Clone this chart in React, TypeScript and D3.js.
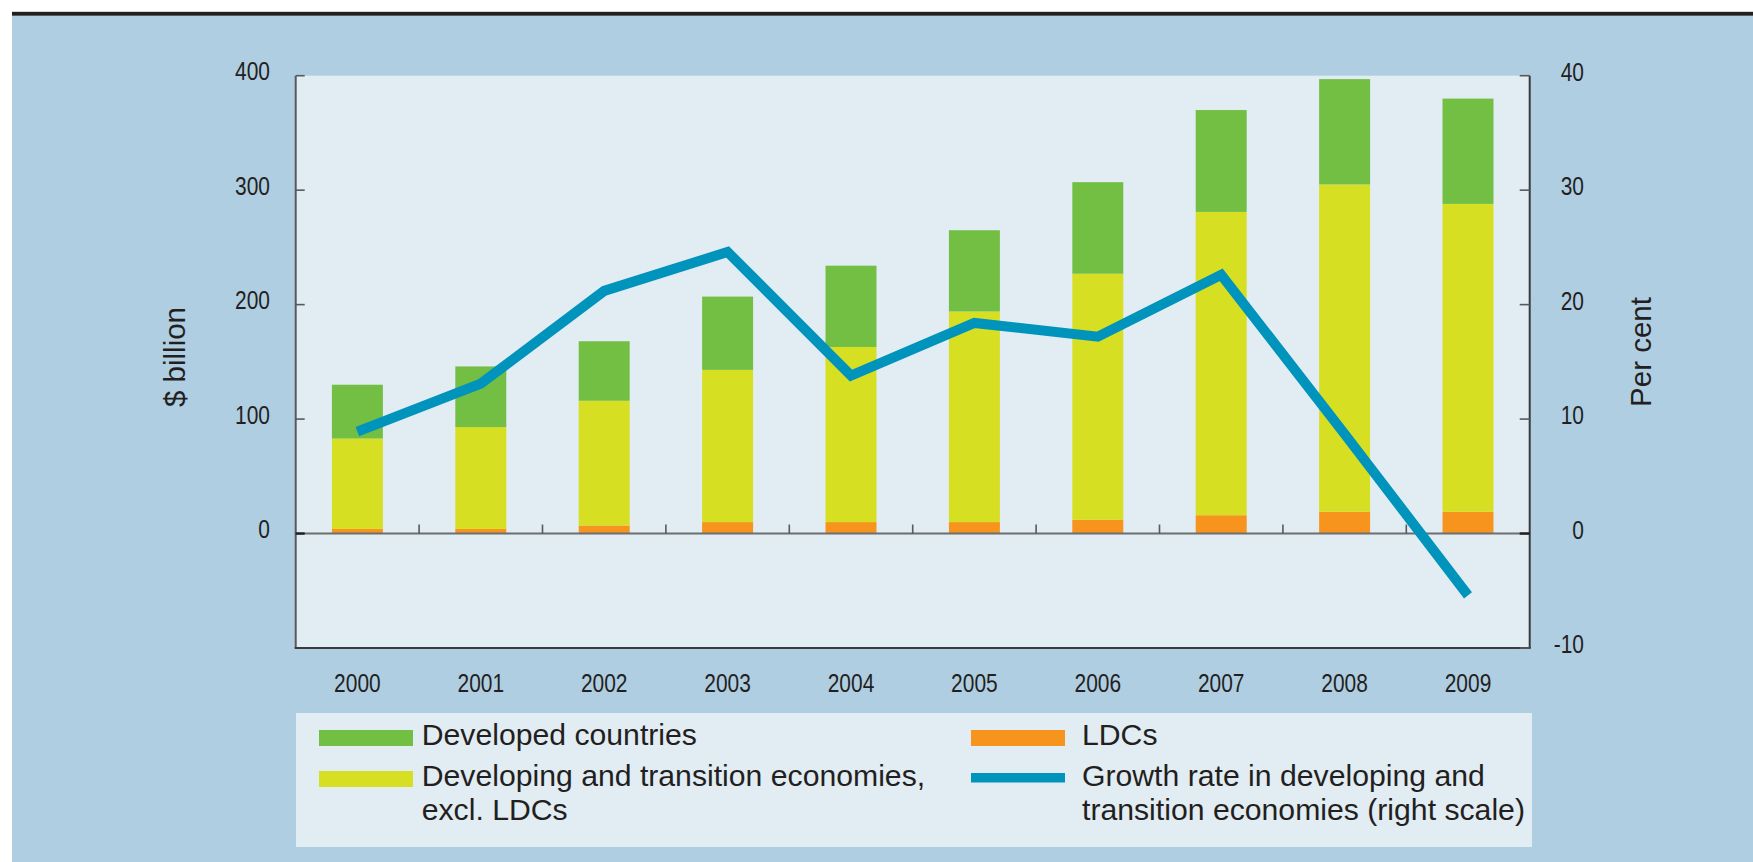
import React from "react";
import * as d3 from "d3";

const years = ["2000", "2001", "2002", "2003", "2004", "2005", "2006", "2007", "2008", "2009"];
const ldcs = [4, 4, 7, 10, 10, 10, 12, 16, 19, 19];
const developing = [79, 89, 109, 133, 153, 184, 215, 265, 286, 269];
const developed = [47, 53, 52, 64, 71, 71, 80, 89, 92, 92];
const growth = [8.9, 13.1, 21.2, 24.6, 13.8, 18.4, 17.2, 22.6, 8.7, -5.4];
const leftTicks = [0, 100, 200, 300, 400];
const rightTicks = [-10, 0, 10, 20, 30, 40];

const seriesKeys = ["ldcs", "developing", "developed"];
const seriesColors: Record<string, string> = {
  ldcs: "#f7941d",
  developing: "#d7df23",
  developed: "#72bf44",
};
const lineColor = "#0093bc";
const textColor = "#231f20";
const bgBlue = "#b0cee2";
const panel = "#e1ecf3";

const W = 1753;
const H = 862;
const plot = { left: 295.7, right: 1529.7, top: 75.7, bottom: 648 };
const FONT = "'Liberation Sans', Arial, Helvetica, sans-serif";
const SX = 0.79;

export default function App() {
  const x = d3
    .scaleBand<string>()
    .domain(years)
    .range([plot.left, plot.right])
    .paddingInner(0.587)
    .paddingOuter(0.2935);
  const step = x.step();
  const yL = d3.scaleLinear().domain([-100, 400]).range([plot.bottom, plot.top]);
  const yR = d3.scaleLinear().domain([-10, 40]).range([plot.bottom, plot.top]);

  const rows = years.map((yr, i) => ({
    year: yr,
    ldcs: ldcs[i],
    developing: developing[i],
    developed: developed[i],
  }));
  const stacked = d3.stack<any>().keys(seriesKeys)(rows);

  const line = d3
    .line<number>()
    .x((_, i) => (x(years[i]) as number) + x.bandwidth() / 2)
    .y((d) => yR(d));

  const y0 = yL(0);

  const hText = (
    key: string,
    tx: number,
    ty: number,
    s: string,
    size: number,
    anchor: "start" | "middle" | "end" = "start",
    sx: number = SX
  ) => (
    <text
      key={key}
      transform={`translate(${tx},${ty}) scale(${sx},1)`}
      fontSize={size}
      fontFamily={FONT}
      fill={textColor}
      textAnchor={anchor}
    >
      {s}
    </text>
  );

  const LG = 30.2;

  return (
    <div style={{ position: "absolute", left: 0, top: 0 }}>
      <svg width={W} height={H} style={{ display: "block" }}>
        <rect x={0} y={0} width={W} height={H} fill="#ffffff" />
        <rect x={12} y={15.5} width={W - 12} height={H - 15.5} fill={bgBlue} />
        <rect x={12} y={11.8} width={W - 12} height={3.9} fill="#231f20" />

        {/* plot panel */}
        <rect
          x={plot.left}
          y={plot.top}
          width={plot.right - plot.left}
          height={plot.bottom - plot.top}
          fill={panel}
        />

        {/* bars */}
        {stacked.map((s) => (
          <g key={s.key} fill={seriesColors[s.key]}>
            {s.map((d: any, i: number) => (
              <rect
                key={i}
                x={x(years[i])}
                y={yL(d[1])}
                width={x.bandwidth()}
                height={yL(d[0]) - yL(d[1])}
              />
            ))}
          </g>
        ))}

        {/* zero line */}
        <line x1={plot.left} x2={plot.right} y1={y0} y2={y0} stroke="#6d6e71" strokeWidth={2} />
        {years.slice(1).map((yr) => {
          const bx = (x(yr) as number) - (step - x.bandwidth()) / 2;
          return (
            <line key={yr} x1={bx} x2={bx} y1={y0} y2={y0 - 9} stroke="#58595b" strokeWidth={1.6} />
          );
        })}

        {/* axis borders */}
        <line x1={plot.left} x2={plot.left} y1={plot.top} y2={plot.bottom} stroke="#58595b" strokeWidth={2} />
        <line x1={plot.right} x2={plot.right} y1={plot.top} y2={plot.bottom} stroke="#3a3a3c" strokeWidth={2} />
        <line x1={plot.left - 1} x2={plot.right + 1} y1={plot.bottom} y2={plot.bottom} stroke="#3a3a3c" strokeWidth={2} />

        {/* left ticks */}
        {leftTicks.map((t) => (
          <g key={"l" + t}>
            <line
              x1={plot.left}
              x2={plot.left + 9}
              y1={yL(t)}
              y2={yL(t)}
              stroke={t === 0 ? "#231f20" : "#58595b"}
              strokeWidth={t === 0 ? 2.4 : 1.6}
            />
            {hText("lt" + t, 270, yL(t) + 4.7, String(t), 26.5, "end")}
          </g>
        ))}

        {/* right ticks */}
        {rightTicks.map((t) => (
          <g key={"r" + t}>
            <line
              x1={plot.right - 10}
              x2={plot.right}
              y1={yR(t)}
              y2={yR(t)}
              stroke={t === 0 ? "#231f20" : "#58595b"}
              strokeWidth={t === 0 ? 2.4 : 1.6}
            />
            {hText("rt" + t, 1584, yR(t) + 5, String(t), 26.5, "end")}
          </g>
        ))}

        {/* x labels */}
        {years.map((yr) =>
          hText("x" + yr, (x(yr) as number) + x.bandwidth() / 2, 692, yr, 26.5, "middle")
        )}

        {/* growth line */}
        <path
          d={line(growth) || ""}
          fill="none"
          stroke={lineColor}
          strokeWidth={10}
          strokeLinejoin="miter"
          strokeLinecap="butt"
        />

        {/* axis titles */}
        <text
          transform="translate(185,357) rotate(-90)"
          fontSize={29.5}
          fontFamily={FONT}
          fill={textColor}
          textAnchor="middle"
        >
          $ billion
        </text>
        <text
          transform="translate(1651,352) rotate(-90)"
          fontSize={29.5}
          fontFamily={FONT}
          fill={textColor}
          textAnchor="middle"
        >
          Per cent
        </text>

        {/* legend */}
        <rect x={296} y={713} width={1236} height={134} fill={panel} />
        <rect x={319} y={730} width={94} height={16} fill={seriesColors.developed} />
        <rect x={319} y={771} width={94} height={16} fill={seriesColors.developing} />
        <rect x={971} y={730} width={94} height={16} fill={seriesColors.ldcs} />
        <rect x={971} y={773} width={94} height={9.5} fill={lineColor} />
        {hText("lg1", 421.7, 745, "Developed countries", LG, "start", 1)}
        {hText("lg2", 421.7, 786, "Developing and transition economies,", LG, "start", 1)}
        {hText("lg3", 421.7, 820, "excl. LDCs", LG, "start", 1)}
        {hText("lg4", 1082, 745, "LDCs", LG, "start", 1)}
        {hText("lg5", 1082, 786, "Growth rate in developing and", LG, "start", 1)}
        {hText("lg6", 1082, 820, "transition economies (right scale)", LG, "start", 1)}
      </svg>
    </div>
  );
}
